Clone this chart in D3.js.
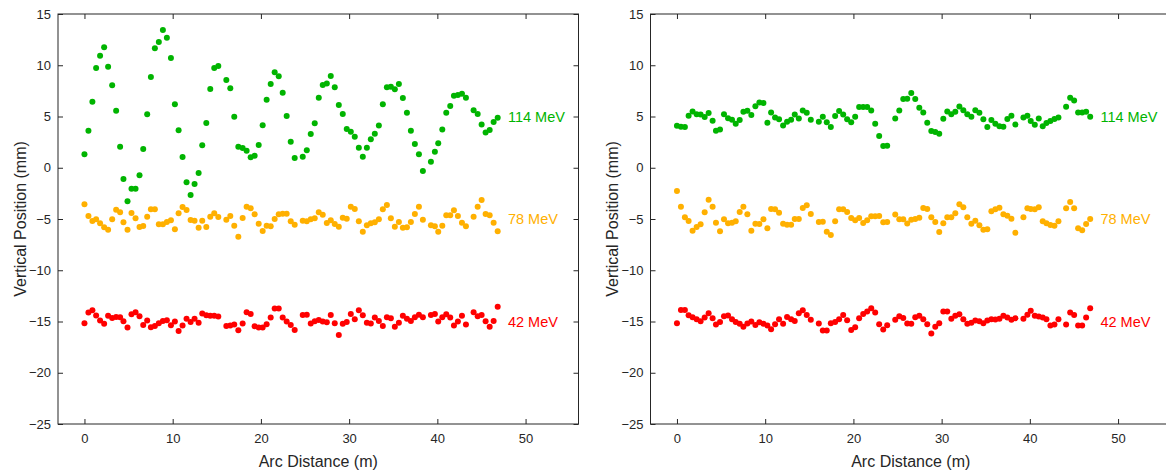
<!DOCTYPE html>
<html>
<head>
<meta charset="utf-8">
<script src="https://cdn.jsdelivr.net/npm/d3@7"></script>
<style>
  html, body { margin: 0; padding: 0; background: #ffffff; }
  svg { display: block; font-family: "Liberation Sans", Arial, Helvetica, sans-serif; }
</style>
</head>
<body>
<svg id="chart" width="1166" height="471"></svg>
<script>
// ---------------- DATA ----------------
const arcDistance = [0, 0.45, 0.90, 1.32, 1.77, 2.23, 2.68, 3.14, 3.59, 4.04, 4.42, 4.88, 5.33, 5.79, 6.24, 6.66, 7.11, 7.53, 7.98, 8.43,
  8.89, 9.34, 9.80, 10.25, 10.67, 11.12, 11.57, 12.03, 12.48, 12.94, 13.35, 13.81, 14.26, 14.71, 15.17,
  16.08, 16.53, 16.98, 17.44, 17.93, 18.38, 18.84, 19.29, 19.75, 20.20, 20.65, 21.11, 21.56, 22.02, 22.47, 22.92, 23.38, 23.83,
  24.74, 25.20, 25.65, 26.10, 26.56, 27.01, 27.47, 27.92, 28.37, 28.83, 29.28, 29.73, 30.19, 30.64, 31.10, 31.55, 32.01, 32.46,
  32.91, 33.37, 33.82, 34.28, 34.73, 35.18, 35.64, 36.09, 36.55, 37.00, 37.45, 37.91, 38.36,
  39.27, 39.72, 40.10, 40.56, 41.01, 41.46, 41.88, 42.33, 42.79, 43.24,
  44.11, 44.57, 45.02, 45.47, 45.93, 46.38, 46.84];

const seriesNames = ["114 MeV", "78 MeV", "42 MeV"];
const labelLevels = [5, -5, -15];
const xTicks = [0, 10, 20, 30, 40, 50];
const yTicks = [-25, -20, -15, -10, -5, 0, 5, 10, 15];
const xLabel = "Arc Distance (m)";
const yLabel = "Vertical Position (mm)";

// Left panel
const left114 = [1.31, 3.62, 6.45, 9.73, 10.93, 11.75, 9.86, 8.04, 5.57, 2.05,
  -1.10, -3.27, -2.04, -2.04, -0.74, 1.83, 5.21, 8.85, 11.65, 12.27,
  13.44, 12.69, 10.71, 6.19, 3.65, 1.05, -1.42, -2.66, -1.59, -0.51,
  2.19, 4.37, 7.68, 9.73, 9.93,
  8.56, 7.75, 4.98, 2.05, 1.93, 1.67, 1.02, 1.18, 2.22, 4.14, 6.64, 8.17, 9.31, 8.92, 7.32, 5.05, 2.54, 0.95,
  1.08, 1.70, 3.30, 4.33, 6.83, 8.07, 8.23, 8.95, 7.85, 6.12, 5.24, 3.78, 3.52, 3.03, 1.96, 1.08, 1.96, 2.77, 3.32, 4.11,
  6.19, 7.85, 7.91, 7.65, 8.17, 6.80, 5.37, 3.62, 2.32, 1.31, -0.32,
  0.59, 1.57, 2.38, 3.74, 5.37, 6.02, 7.03, 7.10, 7.23, 6.83,
  5.60, 5.24, 4.23, 3.45, 3.68, 4.46, 4.89];

const left78 = [-3.57, -4.71, -5.19, -5.03, -5.42, -5.81, -6.04, -5.03, -4.09, -4.35,
  -5.32, -6.04, -4.42, -4.93, -5.78, -5.68, -4.78, -4.06, -4.06, -5.52,
  -5.52, -5.29, -5.13, -6.00, -4.45, -3.83, -4.12, -5.10, -5.17, -5.85,
  -5.17, -5.78, -4.78, -4.45, -4.81,
  -5.07, -4.71, -5.65, -6.73, -4.90, -3.80, -3.96, -4.54, -5.46, -6.17, -5.65, -5.71, -5.00, -4.54, -4.48, -4.48, -5.22, -5.55,
  -5.18, -5.22, -5.03, -4.93, -4.33, -4.58, -5.39, -5.13, -5.49, -5.75, -4.87, -4.97, -3.80, -4.03, -5.22, -6.24, -5.61, -5.42,
  -5.32, -5.03, -4.06, -3.64, -4.93, -5.75, -5.29, -5.85, -5.81, -5.29, -4.51, -3.80, -5.07,
  -5.61, -5.71, -6.24, -5.65, -4.64, -4.64, -4.15, -4.71, -5.36, -5.71,
  -4.78, -3.80, -3.15, -4.51, -4.64, -5.36, -6.20];

const left42 = [-15.17, -14.13, -13.90, -14.42, -14.91, -15.23, -14.45, -14.65, -14.55, -14.58,
  -14.97, -15.59, -14.29, -14.09, -14.48, -15.33, -14.91, -15.56, -15.43, -15.17,
  -14.94, -14.87, -15.36, -15.01, -15.92, -15.40, -14.72, -15.04, -14.72, -15.11,
  -14.23, -14.39, -14.45, -14.45, -14.52,
  -15.43, -15.40, -15.30, -15.85, -15.20, -14.09, -14.26, -15.46, -15.59, -15.59, -15.26, -14.62, -13.74, -13.74, -14.62, -15.01, -15.33, -15.82,
  -14.36, -14.35, -15.20, -14.97, -14.86, -15.01, -15.07, -14.36, -15.17, -16.31, -15.23, -15.04, -14.26, -14.78, -13.90, -14.39,
  -15.11, -15.20, -14.62, -14.94, -15.43, -14.58, -14.68, -15.50, -15.11, -14.45, -14.72, -14.94, -14.58, -14.33, -14.58,
  -14.36, -14.26, -15.01, -14.58, -14.29, -14.62, -15.40, -15.01, -14.45, -15.30,
  -14.09, -14.48, -14.36, -14.97, -15.50, -14.94, -13.55];

// Right panel
const right114 = [4.09, 4.00, 3.97, 5.07, 5.50, 5.23, 5.20, 4.94, 5.33, 4.58,
  3.61, 3.74, 5.23, 4.84, 4.68, 4.29, 4.65, 5.46, 5.56, 5.14,
  6.01, 6.37, 6.31, 4.39, 5.40, 4.91, 4.72, 4.13, 4.48, 4.68,
  5.20, 4.81, 5.59, 5.36, 4.68,
  4.48, 4.97, 4.45, 3.97, 5.04, 5.53, 5.20, 4.72, 4.45, 4.97, 5.92, 5.92, 5.92, 5.59, 4.29, 3.09, 2.12, 2.15,
  4.81, 5.58, 6.70, 6.73, 7.30, 6.70, 5.85, 5.40, 4.39, 3.58, 3.48, 3.31, 4.78, 5.50, 5.23, 5.46,
  5.98, 5.62, 5.23, 4.97, 5.62, 5.36, 4.72, 3.97, 4.65, 4.29, 4.06, 4.00, 4.75, 5.07, 4.23,
  4.91, 5.07, 4.55, 4.19, 4.81, 4.06, 4.36, 4.55, 4.75, 4.91,
  5.95, 6.82, 6.57, 5.40, 5.40, 5.46, 4.97];

const right78 = [-2.27, -3.80, -4.84, -5.19, -6.14, -5.78, -5.52, -4.35, -3.12, -3.80,
  -5.36, -6.20, -5.03, -5.42, -5.36, -5.22, -4.32, -3.80, -4.54, -6.14,
  -5.46, -5.49, -5.03, -5.91, -4.03, -4.06, -4.39, -5.46, -5.55, -5.55,
  -5.00, -5.00, -3.93, -3.67, -4.51,
  -5.29, -5.26, -6.24, -6.56, -5.22, -4.06, -4.06, -4.32, -4.90, -5.13, -4.90, -5.39, -5.13, -4.74, -4.74, -4.71, -5.32, -5.29,
  -4.56, -5.03, -5.03, -5.44, -5.07, -5.00, -4.87, -3.93, -4.03, -4.84, -5.29, -6.27, -5.42, -4.84, -4.84, -4.45,
  -3.57, -3.86, -4.84, -5.46, -5.17, -5.61, -6.04, -6.00, -4.25, -4.06, -3.90, -4.54, -4.68, -4.97, -6.33,
  -4.84, -3.96, -4.03, -4.06, -3.86, -5.22, -5.42, -5.58, -5.65, -5.22,
  -3.96, -3.34, -3.96, -5.91, -6.10, -5.49, -5.00];

const right42 = [-15.17, -13.87, -13.87, -14.39, -14.58, -14.78, -14.97, -14.62, -14.19, -14.68,
  -15.30, -15.04, -14.48, -14.42, -14.78, -15.04, -15.23, -15.50, -15.20, -15.01,
  -15.33, -15.07, -15.23, -15.40, -15.75, -15.26, -14.78, -15.23, -14.55, -14.78,
  -14.94, -14.19, -13.90, -14.36, -14.84,
  -15.20, -15.89, -15.89, -15.17, -15.04, -14.78, -14.36, -14.87, -15.82, -15.56, -14.68, -14.26, -14.03, -13.71, -14.13, -15.26, -15.79, -15.36,
  -14.84, -14.49, -14.67, -15.20, -15.23, -14.58, -14.45, -14.78, -15.26, -16.18, -15.50, -15.17, -14.03, -14.03, -14.72, -14.45,
  -14.29, -14.78, -15.23, -15.11, -14.91, -14.97, -15.17, -14.91, -14.78, -14.81, -14.74, -14.45, -14.62, -14.84, -14.68,
  -14.72, -14.33, -13.94, -14.45, -14.52, -14.62, -14.78, -15.40, -15.30, -14.78,
  -15.30, -14.13, -14.36, -15.40, -15.40, -14.62, -13.71];

const seriesColors = ["#00b400", "#ffb000", "#ff0000"];

// ---------------- DRAW ----------------
const svg = d3.select("#chart");
const axisColor = "#262626";

const panels = [
  { x0: 58, series: [left114, left78, left42] },
  { x0: 650.5, series: [right114, right78, right42] }
];

const plotW = 520.5;
const yTop = 14, yBot = 424;

panels.forEach(p => {
  const x = d3.scaleLinear().domain([-3, 56]).range([p.x0, p.x0 + plotW]);
  const y = d3.scaleLinear().domain([-25, 15]).range([yBot, yTop]);
  const g = svg.append("g");

  // points
  p.series.forEach((vals, si) => {
    const pts = arcDistance.map((d, i) => [d, vals[i]]);
    g.append("g").selectAll("circle").data(pts).enter().append("circle")
      .attr("cx", d => x(d[0]))
      .attr("cy", d => y(d[1]))
      .attr("r", 3)
      .attr("fill", seriesColors[si]);
    g.append("text")
      .attr("x", x(48))
      .attr("y", y(labelLevels[si]))
      .attr("dy", "0.35em")
      .attr("font-size", 14.5)
      .attr("fill", seriesColors[si])
      .text(seriesNames[si]);
  });

  const styleAxis = sel => {
    sel.select(".domain").remove();
    sel.selectAll(".tick line").attr("stroke", axisColor);
    sel.selectAll(".tick text").attr("fill", axisColor)
      .attr("font-family", "Liberation Sans, Arial, sans-serif").attr("font-size", 13);
  };

  g.append("g").attr("transform", `translate(0,${yBot})`)
    .call(d3.axisBottom(x).tickValues(xTicks).tickSizeInner(-5).tickSizeOuter(0).tickPadding(10).tickFormat(d3.format("d")))
    .call(styleAxis);
  g.append("g").attr("transform", `translate(0,${yTop})`)
    .call(d3.axisTop(x).tickValues(xTicks).tickSizeInner(-5).tickSizeOuter(0).tickFormat(""))
    .call(styleAxis);
  g.append("g").attr("transform", `translate(${p.x0},0)`)
    .call(d3.axisLeft(y).tickValues(yTicks).tickSizeInner(-5).tickSizeOuter(0).tickPadding(7).tickFormat(d3.format("d")))
    .call(styleAxis);
  g.append("g").attr("transform", `translate(${p.x0 + plotW},0)`)
    .call(d3.axisRight(y).tickValues(yTicks).tickSizeInner(-5).tickSizeOuter(0).tickFormat(""))
    .call(styleAxis);

  // box
  g.append("rect")
    .attr("x", p.x0).attr("y", yTop)
    .attr("width", plotW).attr("height", yBot - yTop)
    .attr("fill", "none").attr("stroke", axisColor).attr("stroke-width", 1);

  // axis titles
  g.append("text")
    .attr("x", p.x0 + plotW / 2).attr("y", 461)
    .attr("text-anchor", "middle").attr("dy", "0.35em")
    .attr("font-size", 16).attr("fill", axisColor)
    .text(xLabel);
  g.append("text")
    .attr("transform", `translate(${p.x0 - 38},${(yTop + yBot) / 2}) rotate(-90)`)
    .attr("text-anchor", "middle").attr("dy", "0.35em")
    .attr("font-size", 16).attr("fill", axisColor)
    .text(yLabel);
});
</script>
</body>
</html>
